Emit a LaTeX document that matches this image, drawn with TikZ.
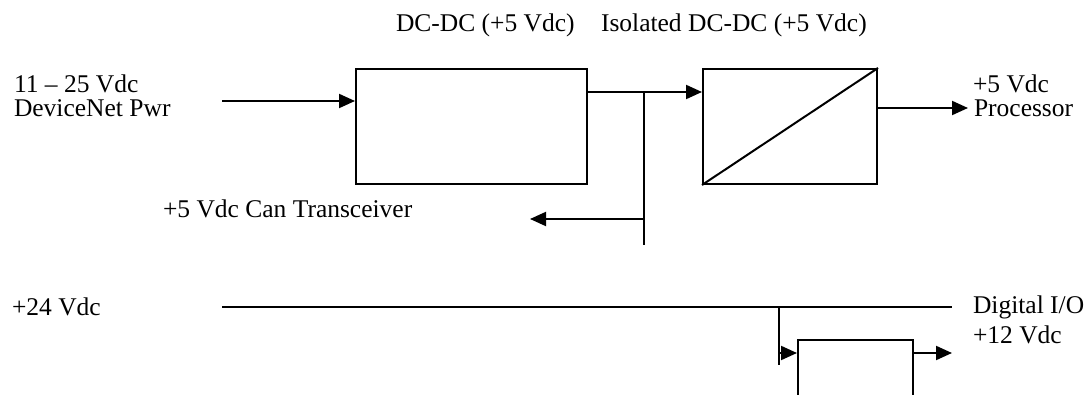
\documentclass[tikz,border=0pt]{standalone}
\usepackage{fontspec}
\setmainfont{Liberation Serif}
\usetikzlibrary{arrows.meta}

\begin{document}
\begin{tikzpicture}[x=0.5pt,y=-0.5pt,line width=1pt,>={Triangle[length=8pt,width=7pt]},
  block/.style={draw,line width=1pt,inner sep=0pt},
  lbl/.style={anchor=base west,inner sep=0pt,font=\fontsize{12.75}{15}\selectfont}]
\useasboundingbox (0,0) rectangle (1086,395);
\clip (0,0) rectangle (1086,395);
% ---------- converters ----------
\node[block,minimum width=115.5pt,minimum height=57.5pt] (dcdc) at (471.5,126.5) {};
\node[block,minimum width=87pt,minimum height=57.5pt] (isodc) at (790,126.5) {};
\draw (isodc.south west) -- (isodc.north east);
\node[block,minimum width=57.5pt,minimum height=60pt] (reg) at (855.5,400) {};
% ---------- labels ----------
\node[lbl] (dcdclbl) at (395,32) {DC-DC (+5 Vdc)};
\node[lbl] (isodclbl) at (600,32) {Isolated DC-DC (+5 Vdc)};
\node[lbl] (pwrv) at (13,93) {11 -- 25 Vdc};
\node[lbl] (pwrname) at (13,117) {DeviceNet Pwr};
\node[lbl] (canlbl) at (162,218) {+5 Vdc Can Transceiver};
\node[lbl] (procv) at (972,93) {+5 Vdc};
\node[lbl] (procname) at (973,117) {Processor};
\node[lbl] (v24) at (11,315) {+24 Vdc};
\node[lbl] (diolbl) at (972,313) {Digital I/O};
\node[lbl] (v12) at (972,343) {+12 Vdc};
% ---------- +5 Vdc path ----------
\coordinate (pwrin) at (222,101);
\coordinate (tap) at (644,92);
\coordinate (tapend) at (644,245);
\coordinate (canout) at (530,219);
\coordinate (procout) at (968,108);
\draw[->] (pwrin) -- (dcdc.west |- pwrin);
\draw[->] (dcdc.east |- tap) -- (isodc.west |- tap);
\draw (tap) -- (tapend);
\draw[->] (tap |- canout) -- (canout);
\draw[->] (isodc.east |- procout) -- (procout);
% ---------- +24 Vdc rail ----------
\coordinate (railL) at (222,307);
\coordinate (railR) at (952,307);
\coordinate (railtap) at (779,307);
\coordinate (railend) at (779,365);
\coordinate (regin) at (779,353);
\coordinate (regout) at (952,353);
\draw (railL) -- (railR);
\draw (railtap) -- (railend);
\draw[->] (regin) -- (reg.west |- regin);
\draw[->] (reg.east |- regout) -- (regout);
\end{tikzpicture}
\end{document}
